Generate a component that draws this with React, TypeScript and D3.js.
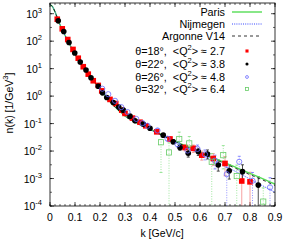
import React from "react";
import * as d3 from "d3";

// theory curves: k [GeV/c] and log10 n(k)
const curveK = [0, 0.01, 0.02, 0.03, 0.04, 0.05, 0.075, 0.1, 0.125, 0.15, 0.175, 0.2, 0.25, 0.3, 0.35, 0.4, 0.45, 0.5, 0.55, 0.6, 0.65, 0.7, 0.75, 0.8, 0.85, 0.9];
const paris = [3.33, 3.26, 3.07, 2.83, 2.6, 2.4, 1.95, 1.53, 1.16, 0.84, 0.54, 0.26, -0.3, -0.72, -0.99, -1.2, -1.42, -1.64, -1.84, -2.04, -2.23, -2.42, -2.62, -2.81, -3.0, -3.2];
const nijmegen = [3.33, 3.26, 3.07, 2.83, 2.6, 2.4, 1.95, 1.53, 1.16, 0.84, 0.54, 0.26, -0.3, -0.72, -1.0, -1.22, -1.45, -1.68, -1.89, -2.1, -2.32, -2.55, -2.78, -3.02, -3.26, -3.5];
const argonne = [3.33, 3.26, 3.07, 2.83, 2.6, 2.4, 1.95, 1.53, 1.16, 0.84, 0.54, 0.26, -0.3, -0.73, -1.0, -1.21, -1.43, -1.65, -1.86, -2.06, -2.26, -2.46, -2.66, -2.86, -3.05, -3.25];

// data: k, log10 n, error up / down (decades)
const k18 = [0.029, 0.049, 0.071, 0.092, 0.113, 0.133, 0.153, 0.173, 0.193, 0.207, 0.24, 0.263, 0.287, 0.30, 0.33, 0.36, 0.383, 0.427, 0.48, 0.54, 0.573, 0.607, 0.653, 0.70, 0.767, 0.80];
const n18 = [2.8, 2.45, 2.06, 1.7, 1.38, 1.07, 0.8, 0.56, 0.39, 0.19, -0.12, -0.27, -0.51, -0.63, -0.8, -0.95, -1.08, -1.3, -1.56, -1.87, -1.9, -2.15, -2.27, -2.45, -3.09, -3.12];
const up18 = [0, 0, 0, 0, 0, 0, 0, 0, 0, 0, 0, 0, 0, 0, 0, 0, 0.03, 0.05, 0.08, 0.1, 0.12, 0.15, 0.18, 0.25, 0.3, 0.35];
const dn18 = [0, 0, 0, 0, 0, 0, 0, 0, 0, 0, 0, 0, 0, 0, 0, 0, 0.03, 0.05, 0.08, 0.12, 0.15, 0.18, 0.25, 0.45, 9, 9];

const k22 = [0.033, 0.055, 0.076, 0.099, 0.121, 0.144, 0.164, 0.193, 0.21, 0.227, 0.253, 0.275, 0.293, 0.32, 0.34, 0.373, 0.40, 0.453, 0.493, 0.52, 0.553, 0.593, 0.63, 0.673, 0.717, 0.77, 0.833];
const n22 = [2.74, 2.35, 1.95, 1.57, 1.24, 0.95, 0.67, 0.36, 0.12, -0.05, -0.23, -0.4, -0.51, -0.73, -0.9, -1.02, -1.17, -1.42, -1.66, -1.87, -2.08, -2.02, -2.11, -2.51, -2.72, -2.75, -3.24];
const up22 = [0, 0, 0, 0, 0, 0, 0, 0, 0, 0, 0, 0, 0, 0, 0, 0.03, 0.04, 0.06, 0.08, 0.1, 0.12, 0.12, 0.15, 0.18, 0.22, 0.25, 0.3];
const dn22 = [0, 0, 0, 0, 0, 0, 0, 0, 0, 0, 0, 0, 0, 0, 0, 0.03, 0.04, 0.06, 0.08, 0.1, 0.14, 0.14, 0.18, 0.22, 0.3, 0.35, 9];

const k26 = [0.209, 0.233, 0.26, 0.285, 0.31, 0.345, 0.37, 0.39, 0.43, 0.47, 0.51, 0.55, 0.59, 0.62, 0.66, 0.707, 0.757, 0.81, 0.88];
const n26 = [0.27, 0.07, -0.17, -0.4, -0.58, -0.83, -0.98, -1.08, -1.25, -1.55, -1.75, -1.98, -1.92, -2.12, -2.35, -2.84, -2.39, -3.08, -3.32];
const up26 = [0, 0, 0, 0, 0, 0, 0.03, 0.04, 0.06, 0.08, 0.1, 0.12, 0.14, 0.16, 0.2, 0.25, 0.2, 0.3, 0.35];
const dn26 = [0, 0, 0, 0, 0, 0, 0.03, 0.04, 0.06, 0.08, 0.1, 0.14, 0.16, 0.2, 0.3, 9, 0.3, 9, 9];

const k32 = [0.444, 0.476, 0.517, 0.557, 0.647, 0.693, 0.747, 0.853];
const n32 = [-1.68, -2.05, -1.56, -1.72, -2.39, -2.15, -2.91, -3.84];
const up32 = [0.3, 0.35, 0.25, 0.25, 0.3, 0.35, 0.4, 0.5];
const dn32 = [1.1, 9, 0.3, 0.35, 9, 0.5, 9, 9];

const legendText = ["Paris", "Nijmegen", "Argonne V14"];
const thetaLabels = ["18", "22", "26", "32"];
const q2Labels = ["2.7", "3.8", "4.8", "6.4"];
const xTicks = [0, 0.1, 0.2, 0.3, 0.4, 0.5, 0.6, 0.7, 0.8, 0.9];
const yTicks = [-4, -3, -2, -1, 0, 1, 2, 3];

const W = 287, H = 240;
const L = 50, R = 275, T = 3, B = 206;
const font = "'Liberation Sans', Arial, sans-serif";

export default function App() {
  const x = d3.scaleLinear().domain([0, 0.9]).range([L, R]);
  const y = d3.scaleLog().domain([1e-4, Math.pow(10, 3.39)]).range([B, T]);
  const yl = (v: number) => Math.min(B, Math.max(T, y(Math.pow(10, v))));

  const line = (vals: number[]) =>
    d3.line<number>().x((_, i) => x(curveK[i])).y((d) => y(Math.pow(10, d))).curve(d3.curveMonotoneX)(vals) || "";

  const minorX = d3.range(0, 0.9001, 0.02);
  const minorY = d3.range(-4, 3.39, 0.5);

  const series = [
    { k: k18, n: n18, up: up18, dn: dn18, bar: "#f48a8a", dash: "none", shape: "sq", fill: "#ff0000", stroke: "#ff0000" },
    { k: k22, n: n22, up: up22, dn: dn22, bar: "#222222", dash: "none", shape: "ci", fill: "#000000", stroke: "#000000" },
    { k: k26, n: n26, up: up26, dn: dn26, bar: "#7777ff", dash: "1,1.5", shape: "oc", fill: "none", stroke: "#6a6aff" },
    { k: k32, n: n32, up: up32, dn: dn32, bar: "#88e088", dash: "1,1.5", shape: "os", fill: "none", stroke: "#66cc66" },
  ];

  const marker = (shape: string, cx: number, cy: number, fill: string, stroke: string, key: string, s = 1) => {
    if (shape === "sq") return <rect key={key} x={cx - 2.8 * s} y={cy - 2.8 * s} width={5.6 * s} height={5.6 * s} fill={fill} />;
    if (shape === "ci") return <circle key={key} cx={cx} cy={cy} r={2.8 * s} fill={fill} />;
    if (shape === "oc") return <circle key={key} cx={cx} cy={cy} r={2.6 * s} fill="none" stroke={stroke} strokeWidth={0.8} />;
    return <rect key={key} x={cx - 2.6 * s} y={cy - 2.6 * s} width={5.2 * s} height={5.2 * s} fill="none" stroke={stroke} strokeWidth={0.8} />;
  };

  const legY = [12, 24, 36];
  const legDY = [51, 64, 77, 89];

  return (
    <svg width={W} height={H} style={{ position: "absolute", left: 0, top: 0 }} fontFamily={font}>
      <rect width={W} height={H} fill="#fff" />
      <defs>
        <clipPath id="plot">
          <rect x={L} y={T} width={R - L} height={B - T} />
        </clipPath>
      </defs>
      {/* ticks */}
      {minorX.map((v, i) => (
        <g key={"mx" + i} stroke="#000" strokeWidth={0.6}>
          <line x1={x(v)} x2={x(v)} y1={B} y2={B - 2} />
          <line x1={x(v)} x2={x(v)} y1={T} y2={T + 2} />
        </g>
      ))}
      {xTicks.map((v) => (
        <g key={"x" + v} stroke="#000" strokeWidth={0.7}>
          <line x1={x(v)} x2={x(v)} y1={B} y2={B - 4} />
          <line x1={x(v)} x2={x(v)} y1={T} y2={T + 4} />
        </g>
      ))}
      {minorY.map((v, i) => (
        <g key={"my" + i} stroke="#000" strokeWidth={0.6}>
          <line x1={L} x2={L + 2} y1={y(Math.pow(10, v))} y2={y(Math.pow(10, v))} />
          <line x1={R} x2={R - 2} y1={y(Math.pow(10, v))} y2={y(Math.pow(10, v))} />
        </g>
      ))}
      {yTicks.map((v) => (
        <g key={"y" + v} stroke="#000" strokeWidth={0.7}>
          <line x1={L} x2={L + 4} y1={y(Math.pow(10, v))} y2={y(Math.pow(10, v))} />
          <line x1={R} x2={R - 4} y1={y(Math.pow(10, v))} y2={y(Math.pow(10, v))} />
        </g>
      ))}
      {xTicks.map((v) => (
        <text key={"xt" + v} x={x(v)} y={221} fontSize={10.5} textAnchor="middle">
          {v === 0 ? "0" : v.toFixed(1)}
        </text>
      ))}
      {yTicks.map((v) => (
        <text key={"yt" + v} x={42} y={y(Math.pow(10, v)) + 4} fontSize={10.5} textAnchor="end">
          10
          <tspan dy={-5} fontSize={7.5}>{v}</tspan>
        </text>
      ))}
      <text x={162} y={237} fontSize={10.5} textAnchor="middle">k [GeV/c]</text>
      <text transform="translate(13,103) rotate(-90)" fontSize={10.5} textAnchor="middle">
        n(k) [1/GeV<tspan dy={-5} fontSize={7.5}>3</tspan><tspan dy={5}>]</tspan>
      </text>

      <g clipPath="url(#plot)">
        {/* error bars */}
        {series.map((s, si) =>
          s.k.map((kv, i) =>
            s.up[i] + s.dn[i] > 0 ? (
              <g key={"e" + si + "-" + i} stroke={s.bar} strokeWidth={0.8} strokeDasharray={s.dash}>
                <line x1={x(kv)} x2={x(kv)} y1={yl(s.n[i] + s.up[i])} y2={yl(s.n[i] - s.dn[i])} />
                <line x1={x(kv) - 1.5} x2={x(kv) + 1.5} y1={yl(s.n[i] + s.up[i])} y2={yl(s.n[i] + s.up[i])} strokeDasharray="none" />
                {s.dn[i] < 5 && (
                  <line x1={x(kv) - 1.5} x2={x(kv) + 1.5} y1={yl(s.n[i] - s.dn[i])} y2={yl(s.n[i] - s.dn[i])} strokeDasharray="none" />
                )}
              </g>
            ) : null
          )
        )}
        {/* curves */}
        <path d={line(paris)} fill="none" stroke="#55dd55" strokeWidth={1.4} />
        <path d={line(nijmegen)} fill="none" stroke="#3344ff" strokeWidth={1} strokeDasharray="1,1.2" />
        <path d={line(argonne)} fill="none" stroke="#000" strokeWidth={0.8} strokeDasharray="3,3" />
        {/* markers */}
        {series.map((s, si) => s.k.map((kv, i) => marker(s.shape, x(kv), y(Math.pow(10, s.n[i])), s.fill, s.stroke, "m" + si + "-" + i)))}
      </g>

      <rect x={L} y={T} width={R - L} height={B - T} fill="none" stroke="#000" strokeWidth={0.8} />

      {/* legend */}
      {legendText.map((t, i) => (
        <text key={t} x={225} y={legY[i] + 4} fontSize={10.8} textAnchor="end">{t}</text>
      ))}
      <line x1={232} x2={262} y1={legY[0]} y2={legY[0]} stroke="#55dd55" strokeWidth={1.4} />
      <line x1={232} x2={262} y1={legY[1]} y2={legY[1]} stroke="#3344ff" strokeWidth={1} strokeDasharray="1,1.2" />
      <line x1={232} x2={262} y1={legY[2]} y2={legY[2]} stroke="#000" strokeWidth={0.8} strokeDasharray="3,3" />
      {thetaLabels.map((th, i) => (
        <g key={th}>
          <text x={225} y={legDY[i] + 4} fontSize={10.8} textAnchor="end" xmlSpace="preserve">
            {"θ=" + th + "°,\u00a0\u00a0<Q"}<tspan dy={-5} fontSize={7.5}>2</tspan><tspan dy={5}>{"> ≈ " + q2Labels[i]}</tspan>
          </text>
          {marker(series[i].shape, 247, legDY[i], series[i].fill, series[i].stroke, "lg" + i, 0.55)}
        </g>
      ))}
    </svg>
  );
}
